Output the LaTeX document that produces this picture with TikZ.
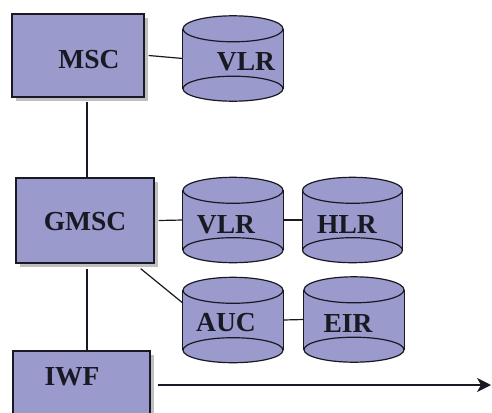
\documentclass[tikz,border=0pt]{standalone}
\usepackage{fontspec}
\setmainfont{Liberation Serif}
\usetikzlibrary{arrows.meta,shadows,backgrounds}
\definecolor{lav}{RGB}{154,154,205}
\definecolor{edge}{RGB}{25,25,35}
\tikzset{
  box/.style={draw=edge, line width=1.3pt, fill=lav, inner sep=0pt,
    drop shadow={shadow xshift=4pt, shadow yshift=-4pt, fill=black!25, opacity=1}},
  db/.style={inner sep=0pt, minimum width=100pt, minimum height=85pt},
  tx/.style={font=\fontsize{27.5}{30}\selectfont\bfseries, text=edge, inner sep=0pt},
  wire/.style={draw=edge, line width=1.2pt},
}
\newcommand\dbdraw[1]{%
  \fill[lav] ([yshift=-13pt]#1.north west) -- ([yshift=12.5pt]#1.south west)
    arc[start angle=180, end angle=360, x radius=50pt, y radius=12.5pt]
    -- ([yshift=-13pt]#1.north east)
    arc[start angle=0, end angle=180, x radius=50pt, y radius=13pt] -- cycle;
  \draw[edge, line width=1.2pt] ([yshift=-13pt]#1.north) ellipse[x radius=50pt, y radius=13pt];
  \draw[edge, line width=1.2pt] ([yshift=12.5pt]#1.south) ellipse[x radius=50pt, y radius=12.5pt];
  \draw[edge, line width=1.2pt] ([yshift=-13pt]#1.north west) -- ([yshift=12.5pt]#1.south west);
  \draw[edge, line width=1.2pt] ([yshift=-13pt]#1.north east) -- ([yshift=12.5pt]#1.south east);
}
\begin{document}
\begin{tikzpicture}[x=1pt, y=-1pt]
\path[use as bounding box] (0,0) rectangle (492,412);
\clip (0,0) rectangle (492,412);
% boxes
\node[box, minimum width=132pt, minimum height=83pt,
  label={[tx, xshift=11pt, yshift=-4pt]center:MSC}] (msc) at (78,55.5) {};
\node[box, minimum width=138pt, minimum height=85pt,
  label={[tx, yshift=-1.5pt]center:GMSC}] (gmsc) at (85,220.5) {};
\node[box, minimum width=137pt, minimum height=68pt,
  label={[tx, xshift=-9.5pt, yshift=8pt]center:IWF}] (iwf) at (81.5,385) {};
% databases
\node[db] (vlra) at (233,58.5) {};
\node[db] (vlrb) at (233,220) {};
\node[db] (hlr) at (352.5,220) {};
\node[db] (auc) at (233,320) {};
\node[db] (eir) at (354,319.5) {};
\begin{scope}[on background layer]
\fill[white] (0,0) rectangle (492,412);
\dbdraw{vlra}\dbdraw{vlrb}\dbdraw{hlr}\dbdraw{auc}\dbdraw{eir}
\end{scope}
\node[tx] at ([xshift=13pt, yshift=-3.5pt]vlra.center) {VLR};
\node[tx] at ([xshift=-7pt, yshift=-4.5pt]vlrb.center) {VLR};
\node[tx] at ([xshift=-5.5pt, yshift=-4.5pt]hlr.center) {HLR};
\node[tx] at ([xshift=-7pt, yshift=-3pt]auc.center) {AUC};
\node[tx] at ([xshift=-6pt, yshift=-3.5pt]eir.center) {EIR};
% connectors
\coordinate (out) at (491,385);
\draw[wire] ([xshift=4pt]msc.east) -- (vlra.west);
\draw[wire] ([xshift=9pt, yshift=-4pt]msc.south) -- ([xshift=2pt]gmsc.north);
\draw[wire] ([xshift=4pt]gmsc.east) -- (vlrb.west);
\draw[wire] (vlrb.east) -- (hlr.west);
\draw[wire] ([shift={(-14pt,-5pt)}]gmsc.south east) -- ([yshift=17pt]auc.west);
\draw[wire] (auc.east) -- (eir.west);
\draw[wire] ([xshift=2pt, yshift=-5pt]gmsc.south) -- ([xshift=5.5pt]iwf.north);
\draw[wire, -{Stealth[length=14pt, width=14pt, inset=4pt]}] ([xshift=7pt]iwf.east) -- (out);
\end{tikzpicture}
\end{document}
